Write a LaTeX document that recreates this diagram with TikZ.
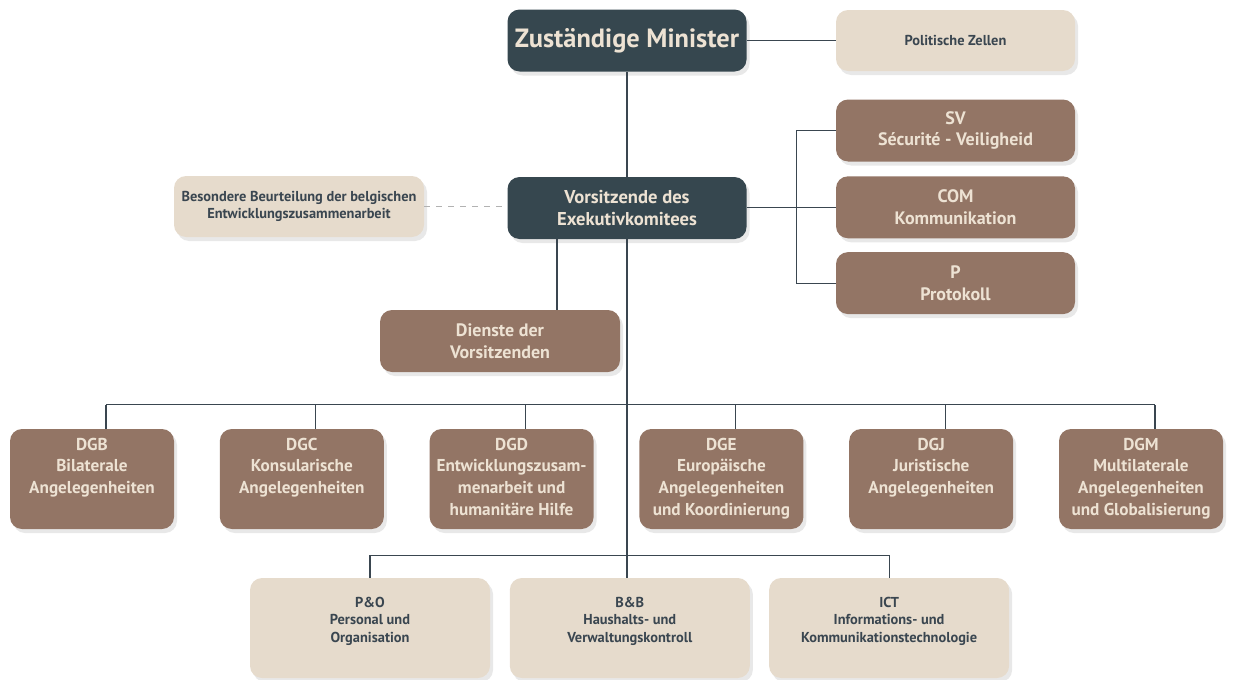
\documentclass[tikz,border=0pt]{standalone}
\usepackage{fontspec}
\setmainfont{PT Sans}
\usetikzlibrary{positioning,shadows}
\definecolor{slate}{HTML}{36474F}
\definecolor{sand}{HTML}{E6DBCC}
\definecolor{mocha}{HTML}{937565}
\definecolor{cream}{HTML}{EDE2D3}
\definecolor{ink}{HTML}{3A4650}
\newcommand\dgtext[1]{\parbox[c][41pt][t]{80pt}{\centering #1}}
\newcommand\svctext[1]{\parbox[c][31pt][t]{118pt}{\centering #1}}
\tikzset{
  base/.style={rounded corners=6pt, align=center, inner sep=0pt,
    drop shadow={opacity=0.18, shadow xshift=1.5pt, shadow yshift=-2pt}},
  dark/.style={base, fill=slate, text=cream, minimum width=119.5pt, minimum height=31pt},
  light/.style={base, fill=sand, text=ink, font=\bfseries\fontsize{7.2}{8.7}\selectfont},
  brown/.style={base, fill=mocha, text=cream, font=\bfseries\fontsize{9}{10.8}\selectfont},
  side/.style={brown, minimum width=119.5pt, minimum height=31pt},
  dg/.style={brown, font=\bfseries\fontsize{8.6}{10.8}\selectfont, minimum width=82pt, minimum height=50pt},
  svc/.style={light, minimum width=120pt, minimum height=50pt},
  link/.style={draw=ink, line width=0.6pt},
}
\begin{document}
\begin{tikzpicture}[x=0.5pt, y=-0.5pt]
  \useasboundingbox (0,0) rectangle (1248,680);
  \node[dark, font=\bfseries\fontsize{13.2}{16}\selectfont] (min) at (627,40.5) {Zuständige Minister};
  \node[light, minimum width=119.5pt, minimum height=30.5pt] (pol) at (955.5,40.5) {Politische Zellen};
  \node[side] (sv) at (955.5,130.5) {SV\\Sécurité - Veiligheid};
  \node[side, below=7pt of sv] (com) {COM\\Kommunikation};
  \node[side, below=6.5pt of com] (p) {P\\Protokoll};
  \node[dark, font=\bfseries\fontsize{9.3}{10.8}\selectfont] (vors) at (627,208) {Vorsitzende des\\Exekutivkomitees};
  \node[light, minimum width=125pt, minimum height=30.5pt] (bes) at (299,206.5)
    {Besondere Beurteilung der belgischen\\Entwicklungszusammenarbeit};
  \node[brown, minimum width=120pt, minimum height=31pt] (dien) at (500,341) {Dienste der\\Vorsitzenden};

  \node[dg] (dgb) at (92,479) {\dgtext{DGB\\Bilaterale\\Angelegenheiten}};
  \node[dg, right=22.5pt of dgb] (dgc) {\dgtext{DGC\\Konsularische\\Angelegenheiten}};
  \node[dg, right=22.5pt of dgc] (dgd) {\dgtext{DGD\\Entwicklungszusam-\\menarbeit und\\humanitäre Hilfe}};
  \node[dg, right=22.5pt of dgd] (dge) {\dgtext{DGE\\Europäische\\Angelegenheiten\\und Koordinierung}};
  \node[dg, right=22.5pt of dge] (dgj) {\dgtext{DGJ\\Juristische\\Angelegenheiten}};
  \node[dg, right=22.5pt of dgj] (dgm) {\dgtext{DGM\\Multilaterale\\Angelegenheiten\\und Globalisierung}};

  \node[svc] (po) at (370,628) {\svctext{P\&O\\Personal und\\Organisation}};
  \node[svc, right=9.5pt of po] (bb) {\svctext{B\&B\\Haushalts- und\\Verwaltungskontroll}};
  \node[svc, right=9.25pt of bb] (ict) {\svctext{ICT\\Informations- und\\Kommunikationstechnologie}};

  \draw[link] (min) -- (pol);
  \draw[link] (min) -- (vors);
  \draw[link] (vors.east |- com.west) -- (com.west);
  \draw[link] (sv.west) -- ++(-39,0) |- (p.west);
  \draw[dashed, draw=gray!60, line width=0.5pt] (bes.east) -- (bes.east -| vors.west);
  \coordinate (dtop) at ([shift={(57,0)}]dien.north);
  \draw[link] (dtop) -- (dtop |- vors.south);
  \draw[link] (vors.south) -- (vors.south |- bb.north);
  \foreach \n in {dgb,dgc,dgd,dge,dgj,dgm}
    \draw[link] ([shift={(14,0)}]\n.north) -- ++(0,-24);
  \draw[link] ([shift={(14,-24)}]dgb.north) -- ([shift={(14,-24)}]dgm.north);
  \draw[link] (po.north) -- ++(0,-22) -| (ict.north);
\end{tikzpicture}
\end{document}
